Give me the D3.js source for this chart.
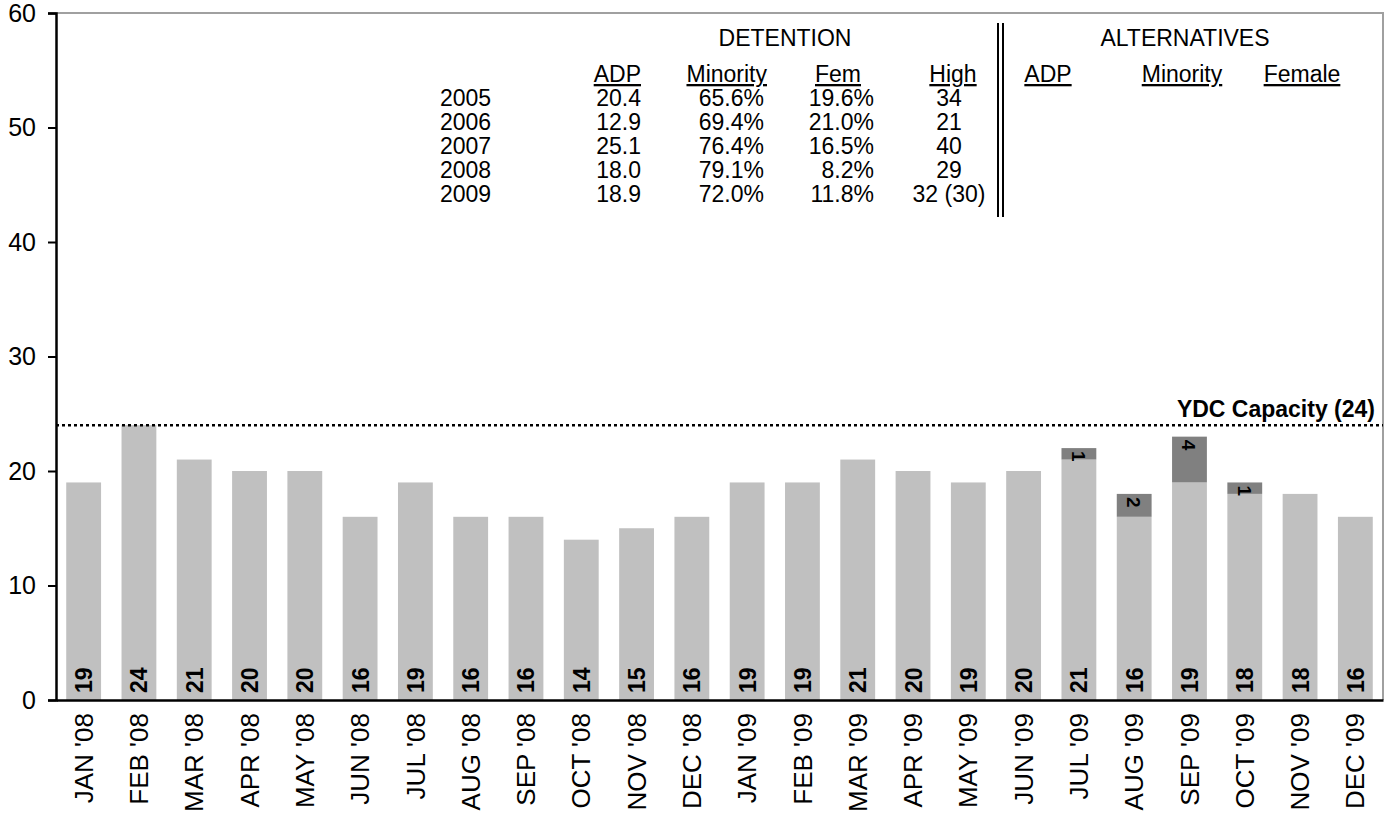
<!DOCTYPE html>
<html>
<head>
<meta charset="utf-8">
<script src="https://cdn.jsdelivr.net/npm/d3@7"></script>
<style>
  body { margin: 0; background: #fff; }
  svg { font-family: Arial, "Liberation Sans", sans-serif; }
</style>
</head>
<body>
<div id="chart"></div>
<script>
// Monthly detention population, with alternatives stacked on top.
const months = ["JAN '08", "FEB '08", "MAR '08", "APR '08", "MAY '08", "JUN '08",
    "JUL '08", "AUG '08", "SEP '08", "OCT '08", "NOV '08", "DEC '08",
    "JAN '09", "FEB '09", "MAR '09", "APR '09", "MAY '09", "JUN '09",
    "JUL '09", "AUG '09", "SEP '09", "OCT '09", "NOV '09", "DEC '09"];
const detention = [19, 24, 21, 20, 20, 16, 19, 16, 16, 14, 15, 16,
    19, 19, 21, 20, 19, 20, 21, 16, 19, 18, 18, 16];
const alternatives = [0, 0, 0, 0, 0, 0, 0, 0, 0, 0, 0, 0,
    0, 0, 0, 0, 0, 0, 1, 2, 4, 1, 0, 0];
const capacity = 24;
const yTicks = [0, 10, 20, 30, 40, 50, 60];

// Summary table.
const years = ['2005', '2006', '2007', '2008', '2009'];
const adp = ['20.4', '12.9', '25.1', '18.0', '18.9'];
const minority = ['65.6%', '69.4%', '76.4%', '79.1%', '72.0%'];
const fem = ['19.6%', '21.0%', '16.5%', '8.2%', '11.8%'];
const high = ['34', '21', '40', '29', '32 (30)'];
const altHeaders = ['ADP', 'Minority', 'Female'];

const width = 1391, height = 815;
const margin = { top: 13, right: 8, bottom: 115, left: 56 };

const svg = d3.select('#chart')
    .append('svg')
    .attr('width', width)
    .attr('height', height);

const x = d3.scaleBand()
    .domain(months)
    .range([margin.left, width - margin.right])
    .paddingInner(0.37)
    .paddingOuter(0.185);

const y = d3.scaleLinear()
    .domain([0, 60])
    .range([height - margin.bottom, margin.top]);

// Plot frame (grey top and right).
svg.append('path')
    .attr('d', `M${margin.left},${y(60)}H${width - margin.right}V${y(0)}`)
    .attr('fill', 'none')
    .attr('stroke', '#a0a0a0')
    .attr('stroke-width', 2);

const rows = months.map((m, i) => ({ month: m, det: detention[i], alt: alternatives[i] }));

// Detention bars.
svg.append('g')
    .selectAll('rect')
    .data(rows)
    .join('rect')
    .attr('x', (d) => x(d.month))
    .attr('width', x.bandwidth())
    .attr('y', (d) => y(d.det))
    .attr('height', (d) => y(0) - y(d.det))
    .attr('fill', '#c0c0c0');

// Alternatives segments.
const altRows = rows.filter((d) => d.alt > 0);
svg.append('g')
    .selectAll('rect')
    .data(altRows)
    .join('rect')
    .attr('x', (d) => x(d.month))
    .attr('width', x.bandwidth())
    .attr('y', (d) => y(d.det + d.alt))
    .attr('height', (d) => y(d.det) - y(d.det + d.alt))
    .attr('fill', '#808080');

// Bar labels at the base.
svg.append('g')
    .selectAll('text')
    .data(rows)
    .join('text')
    .attr('transform', (d) => `translate(${x(d.month) + x.bandwidth() / 2 + 8.5},${y(0) - 7}) rotate(-90)`)
    .attr('font-size', 23)
    .attr('font-weight', 'bold')
    .text((d) => d.det);

// Alternatives labels near the top of each segment.
svg.append('g')
    .selectAll('text')
    .data(altRows)
    .join('text')
    .attr('transform', (d) => `translate(${x(d.month) + x.bandwidth() / 2 - 7},${y(d.det + d.alt) + 3}) rotate(90)`)
    .attr('font-size', 19)
    .attr('font-weight', 'bold')
    .text((d) => d.alt);

// Capacity line.
svg.append('line')
    .attr('x1', margin.left)
    .attr('x2', width - margin.right)
    .attr('y1', y(capacity))
    .attr('y2', y(capacity))
    .attr('stroke', '#000')
    .attr('stroke-width', 2.5)
    .attr('stroke-dasharray', '3,3');

svg.append('text')
    .attr('x', width - margin.right - 8)
    .attr('y', y(capacity) - 8)
    .attr('text-anchor', 'end')
    .attr('font-size', 23)
    .attr('font-weight', 'bold')
    .text(`YDC Capacity (${capacity})`);

// Axes.
const yAxis = svg.append('g')
    .attr('transform', `translate(${margin.left},0)`)
    .call(d3.axisLeft(y).tickValues(yTicks).tickSize(8).tickPadding(12));
yAxis.select('.domain').attr('stroke-width', 2.5);
yAxis.selectAll('.tick line').attr('stroke-width', 2);
yAxis.selectAll('text').attr('font-size', 25).attr('fill', '#000');

const xAxis = svg.append('g')
    .attr('transform', `translate(0,${y(0)})`)
    .call(d3.axisBottom(x).tickSize(0).tickSizeOuter(0));
xAxis.select('.domain').attr('stroke-width', 2.5);
xAxis.selectAll('text')
    .attr('font-size', 26)
    .attr('fill', '#000')
    .attr('text-anchor', 'end')
    .attr('dy', '0.35em')
    .attr('transform', 'translate(0,13) rotate(-90)')
    .attr('x', 0)
    .attr('y', 0);

// Detention table.
const table = svg.append('g').attr('font-size', 23).attr('fill', '#000');
const rowY = (i) => 106 + i * 24;

table.append('text').attr('x', 785).attr('y', 46).attr('text-anchor', 'middle').text('DETENTION');

const detHeaders = [
    { t: 'ADP', x: 641, anchor: 'end' },
    { t: 'Minority', x: 767, anchor: 'end' },
    { t: 'Fem', x: 838, anchor: 'middle' },
    { t: 'High', x: 953, anchor: 'middle' }
];
table.selectAll('.dh')
    .data(detHeaders)
    .join('text')
    .attr('x', (d) => d.x)
    .attr('y', 82)
    .attr('text-anchor', (d) => d.anchor)
    .attr('text-decoration', 'underline')
    .text((d) => d.t);

const cols = [
    { vals: years, x: 440, anchor: 'start' },
    { vals: adp, x: 641, anchor: 'end' },
    { vals: minority, x: 764, anchor: 'end' },
    { vals: fem, x: 874, anchor: 'end' },
    { vals: high, x: 949, anchor: 'middle' }
];
cols.forEach((c) => {
    table.append('g')
        .selectAll('text')
        .data(c.vals)
        .join('text')
        .attr('x', c.x)
        .attr('y', (d, i) => rowY(i))
        .attr('text-anchor', c.anchor)
        .text((d) => d);
});

// Double separator.
[998, 1003].forEach((lx) => {
    svg.append('line')
        .attr('x1', lx).attr('x2', lx)
        .attr('y1', 23).attr('y2', 217)
        .attr('stroke', '#000')
        .attr('stroke-width', 2);
});

// Alternatives header.
table.append('text').attr('x', 1185).attr('y', 46).attr('text-anchor', 'middle').text('ALTERNATIVES');
table.selectAll('.ah')
    .data(altHeaders)
    .join('text')
    .attr('x', (d, i) => [1048, 1182, 1302][i])
    .attr('y', 82)
    .attr('text-anchor', 'middle')
    .attr('text-decoration', 'underline')
    .text((d) => d);
</script>
</body>
</html>
